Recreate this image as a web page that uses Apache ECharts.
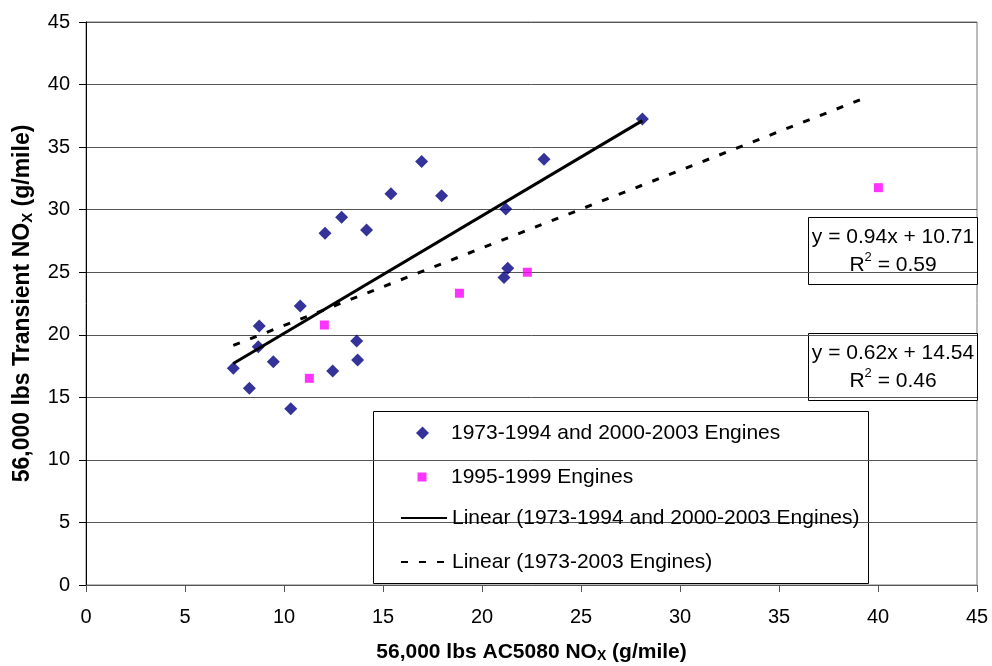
<!DOCTYPE html>
<html>
<head>
<meta charset="utf-8">
<script src="https://cdn.jsdelivr.net/npm/echarts@6/dist/echarts.min.js"></script>
<style>
html,body{margin:0;padding:0;background:#fff;}
#chart{width:992px;height:666px;}
</style>
</head>
<body>
<div id="chart"></div>
<script>
// ---- data ----
var seriesNames = ['1973-1994 and 2000-2003 Engines', '1995-1999 Engines',
  'Linear (1973-1994 and 2000-2003 Engines)', 'Linear (1973-2003 Engines)'];
var groupA_x = [7.44, 8.25, 8.70, 8.75, 9.46, 10.34, 10.82, 12.07, 12.46, 12.91, 13.67,
  13.72, 14.17, 15.40, 16.95, 17.96, 21.11, 21.20, 21.30, 23.13, 28.10];
var groupA_y = [17.32, 15.72, 19.05, 20.70, 17.85, 14.09, 22.30, 28.11, 17.10, 29.39, 19.50,
  17.99, 28.38, 31.28, 33.84, 31.11, 24.57, 30.06, 25.31, 34.03, 37.25];
var groupB_x = [11.28, 12.04, 18.86, 22.29, 40.02];
var groupB_y = [16.52, 20.78, 23.32, 25.00, 31.76];
var trendA_x = [7.44, 28.10];
var trendA_y = [17.70, 37.12];
var trendB_x = [7.44, 39.50];
var trendB_y = [19.15, 39.03];
var eqA = ['y = 0.94x + 10.71', '0.59'];
var eqB = ['y = 0.62x + 14.54', '0.46'];
var xTicks = [0, 45, 5];
var yTicks = [0, 45, 5];

function zip(xs, ys) { return xs.map(function (v, i) { return [v, ys[i]]; }); }

var FONT = '"Liberation Sans", Arial, sans-serif';
var chart = echarts.init(document.getElementById('chart'), null, {renderer: 'canvas'});

function eqBox(top, lines) {
  return {
    type: 'group', left: 808, top: top,
    children: [
      {type: 'rect', shape: {x: 0, y: 0, width: 169, height: 67},
        style: {fill: '#fff', stroke: '#000', lineWidth: 1}},
      {type: 'text', x: 84.5, y: 33.5,
        style: {
          text: lines[0] + '\n{r|R}{sup|2}{r| = ' + lines[1] + '}',
          font: '21px ' + FONT, fill: '#000', align: 'center', verticalAlign: 'middle',
          lineHeight: 28,
          rich: {
            r: {fontSize: 21, fontFamily: FONT, lineHeight: 28, verticalAlign: 'middle'},
            sup: {fontSize: 13, fontFamily: FONT, lineHeight: 28, verticalAlign: 'top'}
          }
        }}
    ]
  };
}

var legendText = {fontSize: 21, fontFamily: FONT, color: '#000', lineHeight: 22};

var option = {
  animation: false,
  backgroundColor: '#fff',
  grid: {left: 86, right: 15, top: 22, bottom: 81, show: true, borderColor: '#777', borderWidth: 1,
    containLabel: false, outerBoundsMode: 'none'},
  xAxis: {
    type: 'value', min: xTicks[0], max: xTicks[1], interval: xTicks[2],
    axisLine: {lineStyle: {color: '#555', width: 1}},
    axisTick: {show: true, inside: false, length: 7, lineStyle: {color: '#555'}},
    axisLabel: {fontSize: 20, fontFamily: FONT, color: '#000', margin: 22},
    splitLine: {show: false},
    name: '56,000 lbs AC5080 NO{s|X} (g/mile)',
    nameLocation: 'middle', nameGap: 56,
    nameTextStyle: {
      fontSize: 21, fontWeight: 'bold', fontFamily: FONT, color: '#000',
      rich: {s: {fontSize: 14, fontWeight: 'bold', fontFamily: FONT, color: '#000', verticalAlign: 'bottom', padding: [8, 0, 0, 0]}}
    }
  },
  yAxis: {
    type: 'value', min: yTicks[0], max: yTicks[1], interval: yTicks[2],
    axisLine: {show: true, lineStyle: {color: '#000', width: 1}},
    axisTick: {show: true, inside: false, length: 7, lineStyle: {color: '#000'}},
    axisLabel: {fontSize: 20, fontFamily: FONT, color: '#000', margin: 16},
    splitLine: {show: true, lineStyle: {color: '#555', width: 1}},
    name: '56,000 lbs Transient NO{s|X} (g/mile)',
    nameLocation: 'middle', nameGap: 51,
    nameTextStyle: {
      fontSize: 23, fontWeight: 'bold', fontFamily: FONT, color: '#000',
      rich: {s: {fontSize: 15, fontWeight: 'bold', fontFamily: FONT, color: '#000', verticalAlign: 'bottom', padding: [9, 0, 0, 0]}}
    }
  },
  legend: [
    {data: [seriesNames[0]], orient: 'vertical', padding: 0, selectedMode: false,
      left: 416, top: 422, itemWidth: 13, itemHeight: 13,
      textStyle: Object.assign({}, legendText, {padding: [0, 0, 0, 17]})},
    {data: [seriesNames[1]], orient: 'vertical', padding: 0, selectedMode: false,
      left: 417.5, top: 466, itemWidth: 9, itemHeight: 9,
      textStyle: Object.assign({}, legendText, {padding: [0, 0, 0, 19.5]})},
    {data: [seriesNames[2], seriesNames[3]], orient: 'vertical', padding: 0, selectedMode: false,
      left: 400, top: 507, itemWidth: 46, itemHeight: 12, itemGap: 22,
      textStyle: legendText}
  ],
  graphic: [
    {type: 'rect', left: 373, top: 411, z: 0, silent: true,
      shape: {width: 495, height: 172}, style: {fill: '#fff', stroke: '#000', lineWidth: 1}},
    eqBox(217, eqA),
    eqBox(333, eqB)
  ],
  series: [
    {name: seriesNames[0], type: 'scatter', symbol: 'diamond', symbolSize: 13,
      itemStyle: {color: '#000080'}, data: zip(groupA_x, groupA_y), z: 3},
    {name: seriesNames[1], type: 'scatter', symbol: 'rect', symbolSize: 9,
      itemStyle: {color: '#FF00FF'}, data: zip(groupB_x, groupB_y), z: 3},
    {name: seriesNames[2], type: 'line', symbol: 'none', silent: true,
      itemStyle: {color: 'rgba(0,0,0,0)'},
      lineStyle: {color: '#000', width: 3, type: 'solid'}, data: zip(trendA_x, trendA_y), z: 4},
    {name: seriesNames[3], type: 'line', symbol: 'none', silent: true,
      itemStyle: {color: 'rgba(0,0,0,0)'},
      lineStyle: {color: '#000', width: 3, type: [7, 11]}, data: zip(trendB_x, trendB_y), z: 4}
  ]
};
chart.setOption(option);
</script>
</body>
</html>
